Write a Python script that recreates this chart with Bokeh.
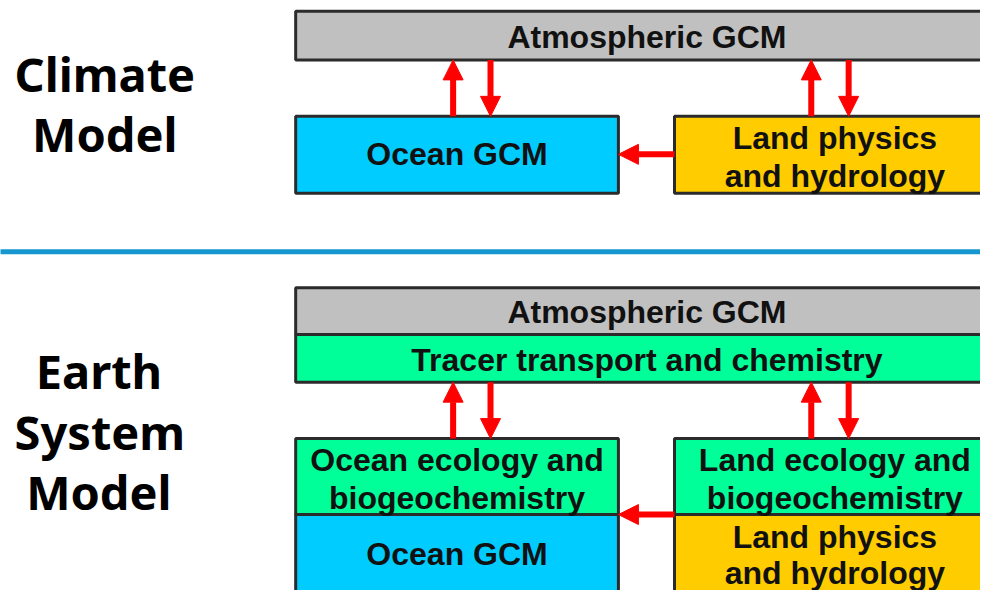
from bokeh.plotting import figure
from bokeh.models import Range1d, Arrow, NormalHead
from bokeh.core.properties import value
from bokeh.embed import file_html
from bokeh.resources import INLINE

# ---- diagram data (reference pixel frame, y grows downward) ----
box_left   = [300, 300, 685, 300, 300, 300, 300, 685, 685]
box_right  = [1014, 628, 1014, 1014, 1014, 628, 628, 1014, 1014]
box_top    = [11, 119, 119, 295, 343, 450, 528, 450, 528]
box_bottom = [61, 198, 198, 343, 392, 528, 640, 528, 640]
box_color  = ["#c0c0c0", "#00ccff", "#ffcc00", "#c0c0c0", "#00ff99",
              "#00ff99", "#00ccff", "#00ff99", "#ffcc00"]

label_text = ["Atmospheric GCM", "Ocean GCM", "Land physics", "and hydrology",
              "Atmospheric GCM", "Tracer transport and chemistry",
              "Ocean ecology and", "biogeochemistry",
              "Land ecology and", "biogeochemistry",
              "Ocean GCM", "Land physics", "and hydrology"]
label_x = [657, 464, 848, 848, 657, 657, 464, 464, 848, 848, 464, 848, 848]
label_y = [37, 158, 141, 180, 320, 369, 472, 511, 472, 511, 569, 551, 588]

side_text = ["Climate", "Model", "Earth", "System", "Model"]
side_x = [106, 106, 100, 101, 100]
side_y = [75, 137, 381, 443, 505]

# vertical arrows: (x, y_start, y_end)
varrow_x  = [460, 498, 824, 862, 460, 498, 824, 862]
varrow_y0 = [119, 61, 119, 61, 450, 392, 450, 392]
varrow_y1 = [61, 119, 61, 119, 392, 450, 392, 450]
# horizontal arrows: (y, x_start, x_end)
harrow_y  = [158, 528]
harrow_x0 = [685, 685]
harrow_x1 = [628, 628]

sep_y = 258

p = figure(width=980, height=590, output_backend="svg", toolbar_location=None,
           x_range=Range1d(0, 996), y_range=Range1d(606, 0),
           min_border=0, outline_line_color=None)
p.axis.visible = False
p.grid.visible = False
p.background_fill_color = "white"
p.border_fill_color = "white"

# separator line
p.segment(x0=[-10], x1=[1010], y0=[sep_y], y1=[sep_y], line_color="#1797cf", line_width=5)

p.quad(left=box_left, right=box_right, top=box_top, bottom=box_bottom,
       fill_color=box_color, line_color="#2b2b2b", line_width=3)

p.text(x=label_x, y=label_y, text=label_text, text_align="center",
       text_baseline="middle", text_font=value("Liberation Sans"),
       text_font_style="bold", text_font_size="32px", text_color="#111111")

p.text(x=side_x, y=side_y, text=side_text, text_align="center",
       text_baseline="middle", text_font=value("Noto Sans"),
       text_font_style="bold", text_font_size="47px", text_color="#000000")

for x, y0, y1 in zip(varrow_x, varrow_y0, varrow_y1):
    p.add_layout(Arrow(end=NormalHead(size=20, fill_color="#ff0000", line_color="#ff0000"),
                       x_start=x, y_start=y0, x_end=x, y_end=y1,
                       line_color="#ff0000", line_width=6))
for y, x0, x1 in zip(harrow_y, harrow_x0, harrow_x1):
    p.add_layout(Arrow(end=NormalHead(size=20, fill_color="#ff0000", line_color="#ff0000"),
                       x_start=x0, y_start=y, x_end=x1, y_end=y,
                       line_color="#ff0000", line_width=6))

open("out.html", "w").write(file_html(p, INLINE))
